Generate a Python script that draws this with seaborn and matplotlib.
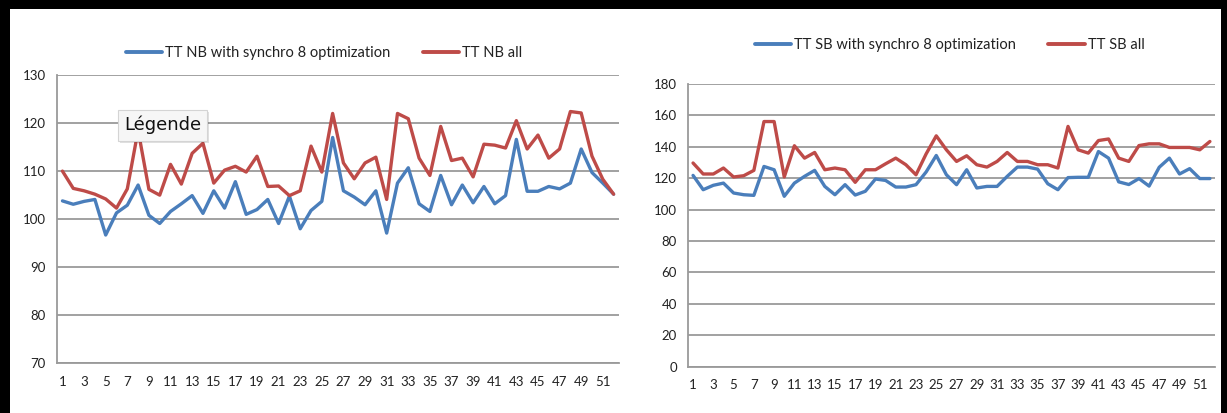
import matplotlib
matplotlib.use("Agg")
import matplotlib.pyplot as plt
import matplotlib.patheffects as pe
from matplotlib.lines import Line2D
from matplotlib.patches import Rectangle
from matplotlib.ticker import FixedLocator
import numpy as np
import pandas as pd
import seaborn as sns

# Weekly travel times (samples 1..52)
weeks = list(range(1, 53))

nb_synchro = [103.8, 103.1, 103.7, 104.1, 96.7, 101.3, 102.9, 107.1, 100.8, 99.1,
              101.6, 103.2, 104.9, 101.2, 105.9, 102.3, 107.8, 101.0, 102.0, 104.1,
              99.1, 104.8, 98.0, 101.8, 103.7, 117.0, 105.9, 104.6, 103.0, 105.9,
              97.1, 107.5, 110.7, 103.2, 101.6, 109.1, 103.0, 107.1, 103.4, 106.8,
              103.2, 104.9, 116.6, 105.8, 105.8, 106.8, 106.3, 107.5, 114.6, 109.7,
              107.5, 105.2]
nb_all = [110.0, 106.4, 105.9, 105.2, 104.2, 102.3, 106.3, 118.5, 106.2, 105.0,
          111.4, 107.3, 113.7, 115.8, 107.5, 110.2, 111.0, 109.8, 113.1, 106.8,
          106.9, 104.9, 105.9, 115.2, 109.8, 122.0, 111.7, 108.4, 111.7, 112.9,
          104.1, 122.0, 120.9, 112.7, 109.1, 119.3, 112.2, 112.7, 108.8, 115.6,
          115.4, 114.8, 120.5, 114.6, 117.5, 112.7, 114.6, 122.4, 122.1, 113.1,
          108.3, 105.2]

sb_synchro = [121.8, 112.7, 115.5, 116.9, 110.6, 109.5, 109.1, 127.5, 125.4, 108.5,
              116.9, 121.2, 125.0, 114.8, 109.5, 115.9, 109.3, 111.7, 119.5, 118.6,
              114.4, 114.4, 115.9, 124.0, 134.5, 122.2, 115.9, 125.4, 113.8, 114.8,
              114.8, 121.2, 127.1, 127.1, 125.8, 116.5, 112.7, 120.4, 120.6, 120.6,
              137.0, 132.8, 117.7, 116.0, 119.8, 115.0, 127.0, 132.8, 122.7, 126.1,
              119.8, 119.8]
sb_all = [129.7, 122.7, 122.7, 126.5, 120.8, 121.6, 125.0, 156.1, 156.1, 120.8,
          140.7, 132.8, 136.4, 125.4, 126.5, 125.4, 117.4, 125.4, 125.4, 129.2,
          132.8, 128.6, 122.2, 135.5, 147.0, 138.1, 130.7, 134.3, 128.6, 127.1,
          130.7, 136.4, 130.7, 130.7, 128.6, 128.6, 126.5, 153.0, 138.1, 136.0,
          144.0, 145.0, 132.8, 130.7, 140.8, 141.9, 141.9, 139.6, 139.6, 139.6,
          138.1, 143.4]

nb_labels = ["TT NB with synchro 8 optimization", "TT NB all"]
sb_labels = ["TT SB with synchro 8 optimization", "TT SB all"]

BLUE = "#4a7ebb"
RED = "#be4b48"
GRID = "#9a9a9a"

sns.set_style("white")
plt.rcParams["font.family"] = ["Lato", "DejaVu Sans"]

fig = plt.figure(figsize=(12.27, 4.13), dpi=100)
fig.patch.set_facecolor("white")

ax_nb = fig.add_axes([0.0465, 0.1203, 0.4580, 0.6981])
ax_sb = fig.add_axes([0.5607, 0.1121, 0.4295, 0.6845])


def draw_panel(ax, s1, s2, labels, ylim, ystep):
    df = pd.DataFrame({"week": weeks, labels[0]: s1, labels[1]: s2})
    long = df.melt(id_vars="week", var_name="series", value_name="value")
    sns.lineplot(data=long, x="week", y="value", hue="series",
                 palette=[BLUE, RED], linewidth=2.4, ax=ax, legend=False,
                 zorder=3)
    ax.set_xlim(0.5, 52.5)
    ax.set_ylim(*ylim)
    ax.set_xlabel("")
    ax.set_ylabel("")
    ax.set_yticks(np.arange(ylim[0], ylim[1] + 0.1, ystep))
    ax.yaxis.grid(True, color=GRID, linewidth=1.3, zorder=1)
    ax.xaxis.grid(False)
    ax.set_xticks(weeks[::2])
    ax.set_xticklabels([str(w) for w in weeks[::2]])
    ax.xaxis.set_minor_locator(FixedLocator(np.arange(0.5, 53, 1.0)))
    ax.tick_params(axis="x", which="major", length=0, pad=9,
                   labelsize=9.5, labelcolor="#222222")
    ax.tick_params(axis="x", which="minor", length=4, width=1.1,
                   color=GRID, direction="out")
    ax.tick_params(axis="y", which="major", length=4, width=1.1, color=GRID,
                   direction="out", pad=4, labelsize=9.5, labelcolor="#222222")
    for side in ("top", "right"):
        ax.spines[side].set_visible(False)
    for side in ("left", "bottom"):
        ax.spines[side].set_color(GRID)
        ax.spines[side].set_linewidth(1.3)
    ax.set_facecolor("white")


draw_panel(ax_nb, nb_synchro, nb_all, nb_labels, (70, 130), 10)
draw_panel(ax_sb, sb_synchro, sb_all, sb_labels, (0, 180), 20)


def top_legend(labels, x, y):
    handles = [Line2D([], [], color=BLUE, lw=2.8),
               Line2D([], [], color=RED, lw=2.8)]
    fig.legend(handles, labels, loc="center", bbox_to_anchor=(x, y),
               ncol=2, frameon=False, fontsize=10.5, handlelength=2.5,
               handletextpad=0.2, columnspacing=2.2, labelcolor="#222222")


top_legend(nb_labels, 0.264, 0.872)
top_legend(sb_labels, 0.774, 0.891)

# Hover tooltip over the left panel
tip = fig.text(0.1324, 0.697, "Légende", ha="center", va="center",
               fontsize=13, family=["DejaVu Sans"], color="#111111", zorder=10,
               bbox=dict(boxstyle="square,pad=0.35", facecolor="#f6f6f6",
                         edgecolor="#d4d4d4", linewidth=0.8))
tip.get_bbox_patch().set_path_effects(
    [pe.SimplePatchShadow(offset=(1.5, -2), shadow_rgbFace="#000000", alpha=0.12),
     pe.Normal()])

# Black window frame around the figure
fig.patches.append(Rectangle((0, 1 - 9 / 413), 1, 9 / 413, transform=fig.transFigure,
                             facecolor="black", edgecolor="none", zorder=20))
fig.patches.append(Rectangle((0, 0), 10 / 1227, 1, transform=fig.transFigure,
                             facecolor="black", edgecolor="none", zorder=20))
fig.patches.append(Rectangle((1 - 6 / 1227, 0), 6 / 1227, 1, transform=fig.transFigure,
                             facecolor="black", edgecolor="none", zorder=20))

fig.savefig("out.png", dpi=100, facecolor="white")
